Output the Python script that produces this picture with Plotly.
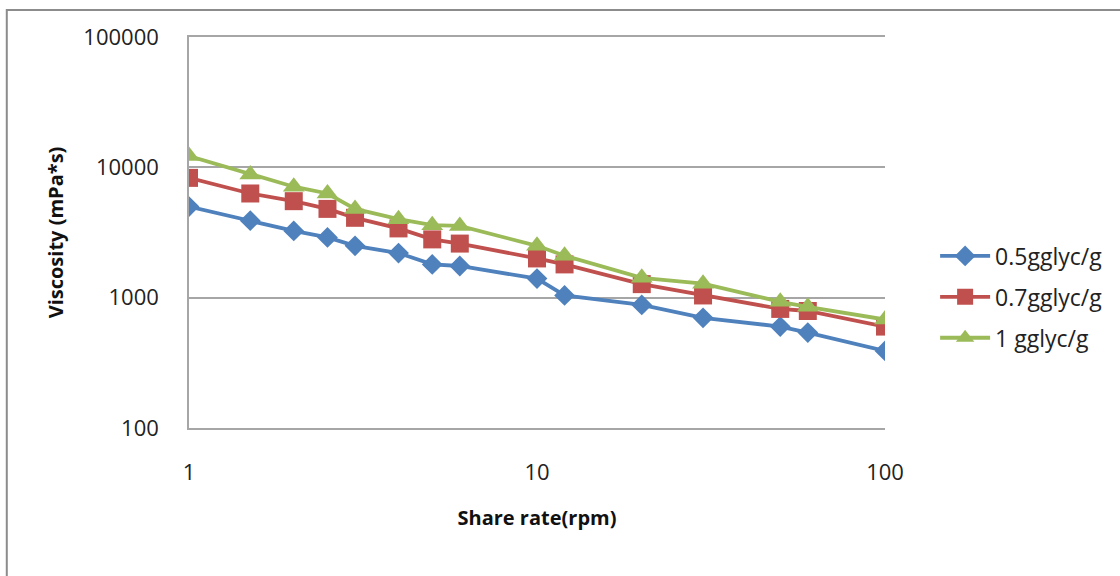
import plotly.graph_objects as go

# Shear rate (rpm) and viscosity (mPa*s) for three glycerol loadings
shear_rate = [1, 1.5, 2, 2.5, 3, 4, 5, 6, 10, 12, 20, 30, 50, 60, 100]
visc_05 = [5000, 3900, 3250, 2900, 2500, 2200, 1800, 1750, 1400, 1040, 880, 700, 600, 540, 390]
visc_07 = [8300, 6300, 5500, 4800, 4100, 3400, 2800, 2600, 2000, 1800, 1270, 1040, 820, 790, 600]
visc_10 = [12200, 8800, 7100, 6300, 4800, 4000, 3600, 3550, 2500, 2100, 1420, 1280, 930, 850, 680]

series_names = ["0.5gglyc/g", "0.7gglyc/g", "1 gglyc/g"]
series_colors = ["#4F81BD", "#C0504D", "#9BBB59"]
series_symbols = ["diamond", "square", "triangle-up"]
series_sizes = [16, 18, 19]

y_tickvals = [100, 1000, 10000, 100000]
y_ticktext = ["100", "1000", "10000", "100000"]
x_tickvals = [1, 10, 100]
x_ticktext = ["1", "10", "100"]

FONT = "Open Sans"
GRID = "#A6A6A6"

fig = go.Figure()
for i, (name, ys) in enumerate(zip(series_names, [visc_05, visc_07, visc_10])):
    fig.add_trace(go.Scatter(
        x=shear_rate, y=ys, name=name, mode="lines+markers",
        legendgroup=name,
        line=dict(color=series_colors[i], width=3.8),
        marker=dict(symbol=series_symbols[i], size=series_sizes[i],
                    color=series_colors[i]),
    ))

fig.update_layout(
    width=1120, height=576,
    margin=dict(l=189, r=232, t=37, b=148),
    paper_bgcolor="white", plot_bgcolor="white",
    font=dict(family=FONT, color="#000000", size=22),
    showlegend=True,
    legend=dict(x=1.072, y=0.335, xanchor="left", yanchor="middle",
                font=dict(family=FONT, size=23, color="#222222"),
                tracegroupgap=8, itemwidth=50),
    shapes=[dict(type="rect", xref="paper", yref="paper",
                 x0=-0.2618, x1=1.34, y0=-0.42, y1=1.069,
                 line=dict(color="#8C8C8C", width=2), layer="below")],
)

fig.update_xaxes(
    type="log", range=[0, 2],
    tickvals=x_tickvals, ticktext=x_ticktext,
    showgrid=False, zeroline=False,
    showline=True, mirror=True, linecolor=GRID, linewidth=1.5,
    ticks="", ticklabelstandoff=24,
    tickfont=dict(family=FONT, size=22, color="#222222"),
    title=dict(text="<b>Share rate(rpm)</b>", standoff=26,
               font=dict(family=FONT, size=20, color="#111111")),
)
fig.update_yaxes(
    type="log", range=[2, 5],
    tickvals=y_tickvals, ticktext=y_ticktext,
    showgrid=True, gridcolor=GRID, gridwidth=1.5,
    zeroline=False,
    showline=True, linecolor=GRID, linewidth=1.5,
    ticks="", ticklabelstandoff=24,
    tickfont=dict(family=FONT, size=22, color="#222222"),
    title=dict(text="<b>Viscosity (mPa*s)</b>", standoff=14,
               font=dict(family=FONT, size=20, color="#111111")),
)

fig.write_html("out.html")
